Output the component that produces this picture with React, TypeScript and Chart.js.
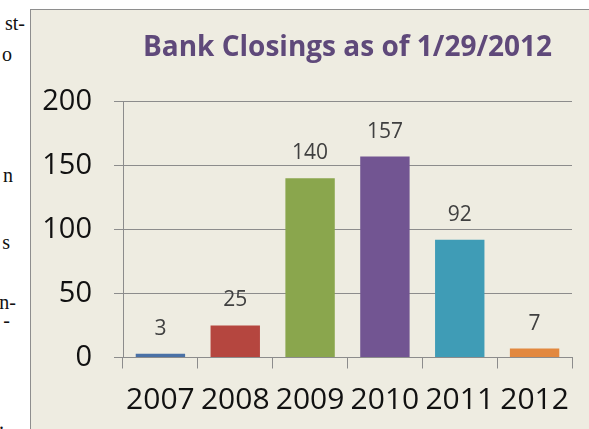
import React, { useEffect, useRef } from 'react';
import { Chart, registerables } from 'chart.js';

Chart.register(...registerables);

const years = ['2007', '2008', '2009', '2010', '2011', '2012'];
const closings = [3, 25, 140, 157, 92, 7];
const barColors = ['#4A71A6', '#B5463F', '#8AA64D', '#725592', '#3F9CB6', '#E2883F'];
const yTicks = [0, 50, 100, 150, 200];

// bits of the page text cut off at the left of the screenshot
const sideText = [
    { text: 'st-', top: 11, right: 5 },
    { text: 'o', top: 42, right: 18 },
    { text: 'n', top: 163, right: 17 },
    { text: 's', top: 230, right: 20 },
    { text: 'n-', top: 290, right: 14 },
    { text: '-', top: 308, right: 20 },
    { text: '.', top: 410, right: 26 },
];

const FONT = '"Open Sans", "DejaVu Sans", sans-serif';
const AXIS_GRAY = '#8C8C8C';

const valueLabels = {
    id: 'valueLabels',
    afterDatasetsDraw(chart: Chart) {
        const { ctx } = chart;
        const meta = chart.getDatasetMeta(0);
        ctx.save();
        ctx.font = `21px ${FONT}`;
        ctx.fillStyle = '#404040';
        ctx.textAlign = 'center';
        ctx.textBaseline = 'middle';
        meta.data.forEach((bar: any, i: number) => {
            ctx.fillText(String(closings[i]), bar.x, bar.y - 25);
        });
        ctx.restore();
    },
};

const BankChart = () => {
    const chartRef = useRef<HTMLCanvasElement | null>(null);

    useEffect(() => {
        if (!chartRef.current) {
            return;
        }
        const ctx = chartRef.current.getContext('2d');
        if (!ctx) {
            return;
        }

        const chart = new Chart(ctx, {
            type: 'bar',
            data: {
                labels: years,
                datasets: [{
                    label: 'Bank closings',
                    data: closings,
                    backgroundColor: barColors,
                    borderWidth: 0,
                    barPercentage: 0.66,
                    categoryPercentage: 1,
                }],
            },
            plugins: [valueLabels],
            options: {
                animation: false,
                responsive: true,
                maintainAspectRatio: false,
                layout: {
                    padding: { left: 0, right: 17, top: 0, bottom: 0 },
                },
                plugins: {
                    legend: { display: false },
                    tooltip: { enabled: false },
                    title: {
                        display: true,
                        fullSize: false,
                        text: 'Bank Closings as of 1/29/2012',
                        color: '#5F497A',
                        font: { family: FONT, size: 28, weight: 'bold', lineHeight: 1.2 },
                        padding: { top: 21, bottom: 37 },
                    },
                },
                scales: {
                    x: {
                        grid: {
                            display: true,
                            offset: true,
                            drawOnChartArea: false,
                            drawTicks: true,
                            tickLength: 11,
                            color: AXIS_GRAY,
                        },
                        border: { display: true, color: AXIS_GRAY },
                        ticks: {
                            color: '#111111',
                            font: { family: FONT, size: 30 },
                            padding: 14,
                            maxRotation: 0,
                            autoSkip: false,
                        },
                        afterFit: (scale: any) => {
                            scale.height = 71.5;
                        },
                    },
                    y: {
                        min: 0,
                        max: 200,
                        afterBuildTicks: (scale: any) => {
                            scale.ticks = yTicks.map(v => ({ value: v }));
                        },
                        grid: {
                            color: AXIS_GRAY,
                            tickLength: 9,
                            drawTicks: true,
                        },
                        border: { display: true, color: AXIS_GRAY },
                        ticks: {
                            color: '#111111',
                            font: { family: FONT, size: 29 },
                            padding: 22,
                        },
                        afterFit: (scale: any) => {
                            scale.width = 92;
                        },
                    },
                },
            },
        });

        return () => {
            chart.destroy();
        };
    }, []);

    return <canvas ref={chartRef} />;
};

const App = () => {
    return (
        <div style={{ position: 'fixed', left: 0, top: 0, width: 589, height: 429, background: '#ffffff', overflow: 'hidden' }}>
            <div style={{ position: 'absolute', left: 0, top: 0, width: 30, height: 429, overflow: 'hidden' }}>
                {sideText.map((s, i) => (
                    <span
                        key={i}
                        style={{
                            position: 'absolute',
                            top: s.top,
                            right: s.right,
                            fontFamily: '"Liberation Serif", serif',
                            fontSize: 20,
                            lineHeight: '24px',
                            color: '#111',
                            whiteSpace: 'nowrap',
                        }}
                    >
                        {s.text}
                    </span>
                ))}
            </div>
            <div
                style={{
                    position: 'absolute',
                    left: 30,
                    top: 9,
                    width: 558,
                    height: 419,
                    background: '#EEECE1',
                    borderTop: '1px solid #8E8E8E',
                    borderLeft: '1px solid #8E8E8E',
                }}
            >
                <div style={{ position: 'relative', width: 558, height: 419 }}>
                    <BankChart />
                </div>
            </div>
        </div>
    );
};

export default App;
